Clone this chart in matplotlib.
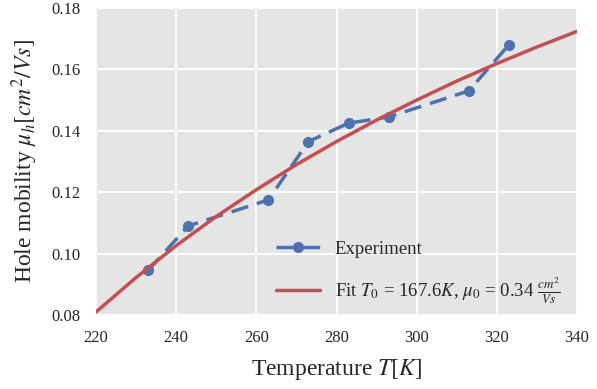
import matplotlib
matplotlib.use("Agg")
import matplotlib.pyplot as plt
import seaborn as sns

# Experiment data
temp_exp = [233, 243, 263, 273, 283, 293, 313, 323]
mu_exp = [0.0945, 0.109, 0.1175, 0.1365, 0.1425, 0.1445, 0.153, 0.168]

# Fit curve values
temp_fit = [220, 230, 240, 250, 260, 270, 280, 290, 300, 310, 320, 330, 340]
mu_fit = [0.0810, 0.0922, 0.1026, 0.1121, 0.1208, 0.1290, 0.1365,
          0.1435, 0.1500, 0.1562, 0.1619, 0.1673, 0.1724]

xticks = [220, 240, 260, 280, 300, 320, 340]
yticks = [0.08, 0.10, 0.12, 0.14, 0.16, 0.18]

sns.set_style("darkgrid", {"axes.facecolor": "#E5E5E5"})
plt.rcParams['font.family'] = ['Liberation Serif', 'DejaVu Serif']
plt.rcParams['mathtext.fontset'] = 'stix'

fig = plt.figure(figsize=(5.97, 3.89), dpi=100)
ax = fig.add_axes([96/597, 1 - 315/389, (577-96)/597, (315-8)/389])

ax.plot(temp_exp, mu_exp, '--o', color='#4C72B0', lw=2.5, ms=7, dashes=(5, 2.6),
        label='Experiment')
ax.plot(temp_fit, mu_fit, '-', color='#C44E52', lw=2.5,
        label=r'Fit $T_0$ = 167.6$K$, $\mu_0$ = 0.34 $\frac{cm^2}{Vs}$')

ax.set_xlim(220, 340)
ax.set_ylim(0.08, 0.18)
ax.set_xticks(xticks)
ax.set_yticks(yticks)
ax.set_xticklabels([str(v) for v in xticks])
ax.set_yticklabels([f"{v:.2f}" for v in yticks])
ax.tick_params(axis='both', labelsize=12, length=2, width=1, color='#333333',
               direction='out', pad=9, labelcolor='#262626')
for s in ax.spines.values():
    s.set_visible(False)
ax.grid(color='white', lw=1.3)

ax.set_xlabel(r'Temperature $T[K]$', fontsize=17, color='#262626', labelpad=8)
ax.set_ylabel(r'Hole mobility $\mu_h[cm^2/Vs]$', fontsize=17, color='#262626', labelpad=8)

leg = ax.legend(loc='lower right', frameon=False, fontsize=13.5,
                bbox_to_anchor=(1.0, -0.025), handlelength=2.3,
                labelspacing=0.95, handletextpad=0.8)

fig.savefig('out.png', dpi=100)
